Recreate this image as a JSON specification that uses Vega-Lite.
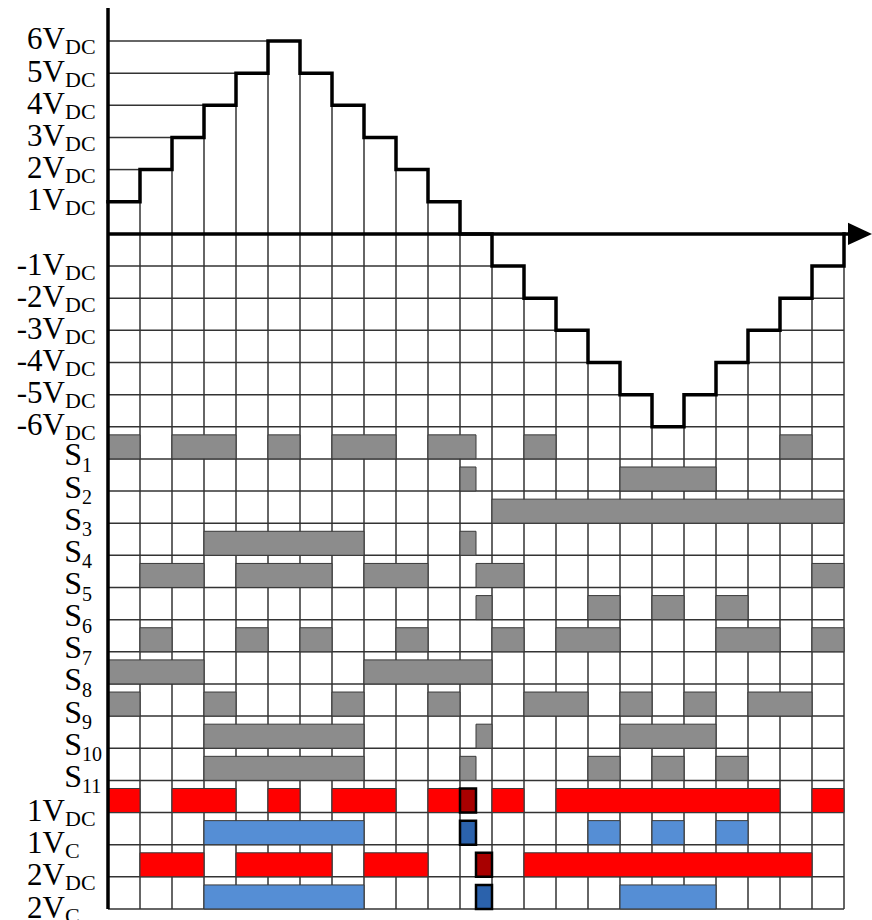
{
  "$schema": "https://vega.github.io/schema/vega-lite/v6.json",
  "width": 872,
  "height": 920,
  "autosize": {"type": "none"},
  "padding": 0,
  "background": "white",
  "config": {"view": {"stroke": null}},
  "datasets": {
    "grid": [
      {"x": 0, "x2": 1, "y": 2, "y2": 2},
      {"x": 0, "x2": 2, "y": 3, "y2": 3},
      {"x": 0, "x2": 3, "y": 4, "y2": 4},
      {"x": 0, "x2": 4, "y": 5, "y2": 5},
      {"x": 0, "x2": 5, "y": 6, "y2": 6},
      {"x": 0, "x2": 13, "y": -1, "y2": -1},
      {"x": 22, "x2": 23, "y": -1, "y2": -1},
      {"x": 0, "x2": 14, "y": -2, "y2": -2},
      {"x": 21, "x2": 23, "y": -2, "y2": -2},
      {"x": 0, "x2": 15, "y": -3, "y2": -3},
      {"x": 20, "x2": 23, "y": -3, "y2": -3},
      {"x": 0, "x2": 16, "y": -4, "y2": -4},
      {"x": 19, "x2": 23, "y": -4, "y2": -4},
      {"x": 0, "x2": 17, "y": -5, "y2": -5},
      {"x": 18, "x2": 23, "y": -5, "y2": -5},
      {"x": 0, "x2": 23, "y": -6, "y2": -6},
      {"x": 0, "x2": 23, "y": -7, "y2": -7},
      {"x": 0, "x2": 23, "y": -8, "y2": -8},
      {"x": 0, "x2": 23, "y": -9, "y2": -9},
      {"x": 0, "x2": 23, "y": -10, "y2": -10},
      {"x": 0, "x2": 23, "y": -11, "y2": -11},
      {"x": 0, "x2": 23, "y": -12, "y2": -12},
      {"x": 0, "x2": 23, "y": -13, "y2": -13},
      {"x": 0, "x2": 23, "y": -14, "y2": -14},
      {"x": 0, "x2": 23, "y": -15, "y2": -15},
      {"x": 0, "x2": 23, "y": -16, "y2": -16},
      {"x": 0, "x2": 23, "y": -17, "y2": -17},
      {"x": 0, "x2": 23, "y": -18, "y2": -18},
      {"x": 0, "x2": 23, "y": -19, "y2": -19},
      {"x": 0, "x2": 23, "y": -20, "y2": -20},
      {"x": 0, "x2": 23, "y": -21, "y2": -21},
      {"x": 1, "x2": 1, "y": 1, "y2": -21},
      {"x": 2, "x2": 2, "y": 2, "y2": -21},
      {"x": 3, "x2": 3, "y": 3, "y2": -21},
      {"x": 4, "x2": 4, "y": 4, "y2": -21},
      {"x": 5, "x2": 5, "y": 5, "y2": -21},
      {"x": 6, "x2": 6, "y": 5, "y2": -21},
      {"x": 7, "x2": 7, "y": 4, "y2": -21},
      {"x": 8, "x2": 8, "y": 3, "y2": -21},
      {"x": 9, "x2": 9, "y": 2, "y2": -21},
      {"x": 10, "x2": 10, "y": 1, "y2": -21},
      {"x": 11, "x2": 11, "y": 0, "y2": -21},
      {"x": 12, "x2": 12, "y": 0, "y2": -21},
      {"x": 13, "x2": 13, "y": -1, "y2": -21},
      {"x": 14, "x2": 14, "y": -2, "y2": -21},
      {"x": 15, "x2": 15, "y": -3, "y2": -21},
      {"x": 16, "x2": 16, "y": -4, "y2": -21},
      {"x": 17, "x2": 17, "y": -5, "y2": -21},
      {"x": 18, "x2": 18, "y": -5, "y2": -21},
      {"x": 19, "x2": 19, "y": -4, "y2": -21},
      {"x": 20, "x2": 20, "y": -3, "y2": -21},
      {"x": 21, "x2": 21, "y": -2, "y2": -21},
      {"x": 22, "x2": 22, "y": -1, "y2": -21},
      {"x": 23, "x2": 23, "y": -1, "y2": -21}
    ],
    "bars": [
      {"sig": "S1", "y": -6.5, "x": 0, "x2": 1, "k": "g"},
      {"sig": "S1", "y": -6.5, "x": 2, "x2": 4, "k": "g"},
      {"sig": "S1", "y": -6.5, "x": 5, "x2": 6, "k": "g"},
      {"sig": "S1", "y": -6.5, "x": 7, "x2": 9, "k": "g"},
      {"sig": "S1", "y": -6.5, "x": 10, "x2": 11.5, "k": "g"},
      {"sig": "S1", "y": -6.5, "x": 13, "x2": 14, "k": "g"},
      {"sig": "S1", "y": -6.5, "x": 21, "x2": 22, "k": "g"},
      {"sig": "S2", "y": -7.5, "x": 11, "x2": 11.5, "k": "g"},
      {"sig": "S2", "y": -7.5, "x": 16, "x2": 19, "k": "g"},
      {"sig": "S3", "y": -8.5, "x": 12, "x2": 23, "k": "g"},
      {"sig": "S4", "y": -9.5, "x": 3, "x2": 8, "k": "g"},
      {"sig": "S4", "y": -9.5, "x": 11, "x2": 11.5, "k": "g"},
      {"sig": "S5", "y": -10.5, "x": 1, "x2": 3, "k": "g"},
      {"sig": "S5", "y": -10.5, "x": 4, "x2": 7, "k": "g"},
      {"sig": "S5", "y": -10.5, "x": 8, "x2": 10, "k": "g"},
      {"sig": "S5", "y": -10.5, "x": 11.5, "x2": 13, "k": "g"},
      {"sig": "S5", "y": -10.5, "x": 22, "x2": 23, "k": "g"},
      {"sig": "S6", "y": -11.5, "x": 11.5, "x2": 12, "k": "g"},
      {"sig": "S6", "y": -11.5, "x": 15, "x2": 16, "k": "g"},
      {"sig": "S6", "y": -11.5, "x": 17, "x2": 18, "k": "g"},
      {"sig": "S6", "y": -11.5, "x": 19, "x2": 20, "k": "g"},
      {"sig": "S7", "y": -12.5, "x": 1, "x2": 2, "k": "g"},
      {"sig": "S7", "y": -12.5, "x": 4, "x2": 5, "k": "g"},
      {"sig": "S7", "y": -12.5, "x": 6, "x2": 7, "k": "g"},
      {"sig": "S7", "y": -12.5, "x": 9, "x2": 10, "k": "g"},
      {"sig": "S7", "y": -12.5, "x": 12, "x2": 13, "k": "g"},
      {"sig": "S7", "y": -12.5, "x": 14, "x2": 16, "k": "g"},
      {"sig": "S7", "y": -12.5, "x": 19, "x2": 21, "k": "g"},
      {"sig": "S7", "y": -12.5, "x": 22, "x2": 23, "k": "g"},
      {"sig": "S8", "y": -13.5, "x": 0, "x2": 3, "k": "g"},
      {"sig": "S8", "y": -13.5, "x": 8, "x2": 12, "k": "g"},
      {"sig": "S9", "y": -14.5, "x": 0, "x2": 1, "k": "g"},
      {"sig": "S9", "y": -14.5, "x": 3, "x2": 4, "k": "g"},
      {"sig": "S9", "y": -14.5, "x": 7, "x2": 8, "k": "g"},
      {"sig": "S9", "y": -14.5, "x": 10, "x2": 11, "k": "g"},
      {"sig": "S9", "y": -14.5, "x": 13, "x2": 15, "k": "g"},
      {"sig": "S9", "y": -14.5, "x": 16, "x2": 17, "k": "g"},
      {"sig": "S9", "y": -14.5, "x": 18, "x2": 19, "k": "g"},
      {"sig": "S9", "y": -14.5, "x": 20, "x2": 22, "k": "g"},
      {"sig": "S10", "y": -15.5, "x": 3, "x2": 8, "k": "g"},
      {"sig": "S10", "y": -15.5, "x": 11.5, "x2": 12, "k": "g"},
      {"sig": "S10", "y": -15.5, "x": 16, "x2": 19, "k": "g"},
      {"sig": "S11", "y": -16.5, "x": 3, "x2": 8, "k": "g"},
      {"sig": "S11", "y": -16.5, "x": 11, "x2": 11.5, "k": "g"},
      {"sig": "S11", "y": -16.5, "x": 15, "x2": 16, "k": "g"},
      {"sig": "S11", "y": -16.5, "x": 17, "x2": 18, "k": "g"},
      {"sig": "S11", "y": -16.5, "x": 19, "x2": 20, "k": "g"},
      {"sig": "1VDC", "y": -17.5, "x": 0, "x2": 1, "k": "r"},
      {"sig": "1VDC", "y": -17.5, "x": 2, "x2": 4, "k": "r"},
      {"sig": "1VDC", "y": -17.5, "x": 5, "x2": 6, "k": "r"},
      {"sig": "1VDC", "y": -17.5, "x": 7, "x2": 9, "k": "r"},
      {"sig": "1VDC", "y": -17.5, "x": 10, "x2": 11, "k": "r"},
      {"sig": "1VDC", "y": -17.5, "x": 12, "x2": 13, "k": "r"},
      {"sig": "1VDC", "y": -17.5, "x": 14, "x2": 21, "k": "r"},
      {"sig": "1VDC", "y": -17.5, "x": 22, "x2": 23, "k": "r"},
      {"sig": "1VC", "y": -18.5, "x": 3, "x2": 8, "k": "b"},
      {"sig": "1VC", "y": -18.5, "x": 15, "x2": 16, "k": "b"},
      {"sig": "1VC", "y": -18.5, "x": 17, "x2": 18, "k": "b"},
      {"sig": "1VC", "y": -18.5, "x": 19, "x2": 20, "k": "b"},
      {"sig": "2VDC", "y": -19.5, "x": 1, "x2": 3, "k": "r"},
      {"sig": "2VDC", "y": -19.5, "x": 4, "x2": 7, "k": "r"},
      {"sig": "2VDC", "y": -19.5, "x": 8, "x2": 10, "k": "r"},
      {"sig": "2VDC", "y": -19.5, "x": 13, "x2": 22, "k": "r"},
      {"sig": "2VC", "y": -20.5, "x": 3, "x2": 8, "k": "b"},
      {"sig": "2VC", "y": -20.5, "x": 16, "x2": 19, "k": "b"}
    ],
    "hbars": [
      {"sig": "1VDC", "y": -17.5, "x": 11, "x2": 11.5, "k": "dr"},
      {"sig": "1VC", "y": -18.5, "x": 11, "x2": 11.5, "k": "db"},
      {"sig": "2VDC", "y": -19.5, "x": 11.5, "x2": 12, "k": "dr"},
      {"sig": "2VC", "y": -20.5, "x": 11.5, "x2": 12, "k": "db"}
    ],
    "wave": [
      {"x": 0, "y": 1}, {"x": 1, "y": 2}, {"x": 2, "y": 3}, {"x": 3, "y": 4},
      {"x": 4, "y": 5}, {"x": 5, "y": 6}, {"x": 6, "y": 5}, {"x": 7, "y": 4},
      {"x": 8, "y": 3}, {"x": 9, "y": 2}, {"x": 10, "y": 1}, {"x": 11, "y": 0},
      {"x": 12, "y": -1}, {"x": 13, "y": -2}, {"x": 14, "y": -3}, {"x": 15, "y": -4},
      {"x": 16, "y": -5}, {"x": 17, "y": -6}, {"x": 18, "y": -5}, {"x": 19, "y": -4},
      {"x": 20, "y": -3}, {"x": 21, "y": -2}, {"x": 22, "y": -1}, {"x": 23, "y": 0}
    ],
    "axes": [
      {"x": 0, "x2": 0, "y": 7.03, "y2": -21},
      {"x": 0, "x2": 23.3, "y": 0, "y2": 0}
    ],
    "vlab": [
      {"t": "6V", "s": "DC", "y": 6},
      {"t": "5V", "s": "DC", "y": 5},
      {"t": "4V", "s": "DC", "y": 4},
      {"t": "3V", "s": "DC", "y": 3},
      {"t": "2V", "s": "DC", "y": 2},
      {"t": "1V", "s": "DC", "y": 1},
      {"t": "-1V", "s": "DC", "y": -1},
      {"t": "-2V", "s": "DC", "y": -2},
      {"t": "-3V", "s": "DC", "y": -3},
      {"t": "-4V", "s": "DC", "y": -4},
      {"t": "-5V", "s": "DC", "y": -5},
      {"t": "-6V", "s": "DC", "y": -6},
      {"t": "1V", "s": "DC", "y": -18},
      {"t": "1V", "s": "C", "y": -19},
      {"t": "2V", "s": "DC", "y": -20},
      {"t": "2V", "s": "C", "y": -21}
    ],
    "slab": [
      {"t": "S", "s": "1", "y": -7},
      {"t": "S", "s": "2", "y": -8},
      {"t": "S", "s": "3", "y": -9},
      {"t": "S", "s": "4", "y": -10},
      {"t": "S", "s": "5", "y": -11},
      {"t": "S", "s": "6", "y": -12},
      {"t": "S", "s": "7", "y": -13},
      {"t": "S", "s": "8", "y": -14},
      {"t": "S", "s": "9", "y": -15},
      {"t": "S", "s": "10", "y": -16},
      {"t": "S", "s": "11", "y": -17}
    ]
  },
  "layer": [
    {
      "data": {"name": "grid"},
      "mark": {"type": "rule", "color": "#333333", "strokeWidth": 1.5},
      "encoding": {
        "x": {"field": "x", "type": "quantitative", "axis": null, "scale": {"domain": [-3.375, 23.875], "nice": false, "zero": false}},
        "x2": {"field": "x2"},
        "y": {"field": "y", "type": "quantitative", "axis": null, "scale": {"domain": [-21.342, 7.275], "nice": false, "zero": false}},
        "y2": {"field": "y2"}
      }
    },
    {
      "data": {"name": "bars"},
      "mark": {"type": "rect", "height": 24, "yOffset": 4, "stroke": "#3a3a3a", "strokeWidth": 1},
      "encoding": {
        "x": {"field": "x", "type": "quantitative", "axis": null, "scale": {"domain": [-3.375, 23.875], "nice": false, "zero": false}},
        "x2": {"field": "x2"},
        "y": {"field": "y", "type": "quantitative", "axis": null, "scale": {"domain": [-21.342, 7.275], "nice": false, "zero": false}},
        "fill": {"field": "k", "type": "nominal", "legend": null, "scale": {"domain": ["g", "r", "b", "dr", "db"], "range": ["#8c8c8c", "#ff0000", "#558ed5", "#a80000", "#2b62ac"]}}
      }
    },
    {
      "data": {"name": "hbars"},
      "mark": {"type": "rect", "height": 24, "yOffset": 4, "stroke": "#000000", "strokeWidth": 2.5},
      "encoding": {
        "x": {"field": "x", "type": "quantitative", "axis": null, "scale": {"domain": [-3.375, 23.875], "nice": false, "zero": false}},
        "x2": {"field": "x2"},
        "y": {"field": "y", "type": "quantitative", "axis": null, "scale": {"domain": [-21.342, 7.275], "nice": false, "zero": false}},
        "fill": {"field": "k", "type": "nominal", "legend": null, "scale": {"domain": ["g", "r", "b", "dr", "db"], "range": ["#8c8c8c", "#ff0000", "#558ed5", "#a80000", "#2b62ac"]}}
      }
    },
    {
      "data": {"name": "axes"},
      "mark": {"type": "rule", "color": "#000000", "strokeWidth": 3.5},
      "encoding": {
        "x": {"field": "x", "type": "quantitative", "axis": null, "scale": {"domain": [-3.375, 23.875], "nice": false, "zero": false}},
        "x2": {"field": "x2"},
        "y": {"field": "y", "type": "quantitative", "axis": null, "scale": {"domain": [-21.342, 7.275], "nice": false, "zero": false}},
        "y2": {"field": "y2"}
      }
    },
    {
      "data": {"name": "wave"},
      "mark": {"type": "line", "interpolate": "step-after", "color": "#000000", "strokeWidth": 3.5, "strokeJoin": "miter", "strokeCap": "square"},
      "encoding": {
        "x": {"field": "x", "type": "quantitative", "axis": null, "scale": {"domain": [-3.375, 23.875], "nice": false, "zero": false}},
        "y": {"field": "y", "type": "quantitative", "axis": null, "scale": {"domain": [-21.342, 7.275], "nice": false, "zero": false}}
      }
    },
    {
      "data": {"values": [{}]},
      "mark": {"type": "point", "shape": "M-1,-0.92L1,0L-1,0.92Z", "filled": true, "size": 576, "color": "#000000", "opacity": 1},
      "encoding": {
        "x": {"datum": 23.5, "type": "quantitative", "axis": null, "scale": {"domain": [-3.375, 23.875], "nice": false, "zero": false}},
        "y": {"datum": 0, "type": "quantitative", "axis": null, "scale": {"domain": [-21.342, 7.275], "nice": false, "zero": false}}
      }
    },
    {
      "data": {"name": "vlab"},
      "mark": {"type": "text", "align": "right", "baseline": "alphabetic", "dy": 8.5, "font": "Liberation Serif", "fontSize": 31, "color": "#000000"},
      "encoding": {
        "x": {"datum": -1.344, "type": "quantitative", "axis": null, "scale": {"domain": [-3.375, 23.875], "nice": false, "zero": false}},
        "y": {"field": "y", "type": "quantitative", "axis": null, "scale": {"domain": [-21.342, 7.275], "nice": false, "zero": false}},
        "text": {"field": "t"}
      }
    },
    {
      "data": {"name": "vlab"},
      "mark": {"type": "text", "align": "left", "baseline": "alphabetic", "dy": 13.5, "font": "Liberation Serif", "fontSize": 22, "color": "#000000"},
      "encoding": {
        "x": {"datum": -1.344, "type": "quantitative", "axis": null, "scale": {"domain": [-3.375, 23.875], "nice": false, "zero": false}},
        "y": {"field": "y", "type": "quantitative", "axis": null, "scale": {"domain": [-21.342, 7.275], "nice": false, "zero": false}},
        "text": {"field": "s"}
      }
    },
    {
      "data": {"name": "slab"},
      "mark": {"type": "text", "align": "right", "baseline": "alphabetic", "dy": 6.5, "font": "Liberation Serif", "fontSize": 32, "color": "#000000"},
      "encoding": {
        "x": {"datum": -0.8125, "type": "quantitative", "axis": null, "scale": {"domain": [-3.375, 23.875], "nice": false, "zero": false}},
        "y": {"field": "y", "type": "quantitative", "axis": null, "scale": {"domain": [-21.342, 7.275], "nice": false, "zero": false}},
        "text": {"field": "t"}
      }
    },
    {
      "data": {"name": "slab"},
      "mark": {"type": "text", "align": "left", "baseline": "alphabetic", "dy": 13, "font": "Liberation Serif", "fontSize": 20, "color": "#000000"},
      "encoding": {
        "x": {"datum": -0.8125, "type": "quantitative", "axis": null, "scale": {"domain": [-3.375, 23.875], "nice": false, "zero": false}},
        "y": {"field": "y", "type": "quantitative", "axis": null, "scale": {"domain": [-21.342, 7.275], "nice": false, "zero": false}},
        "text": {"field": "s"}
      }
    }
  ]
}
